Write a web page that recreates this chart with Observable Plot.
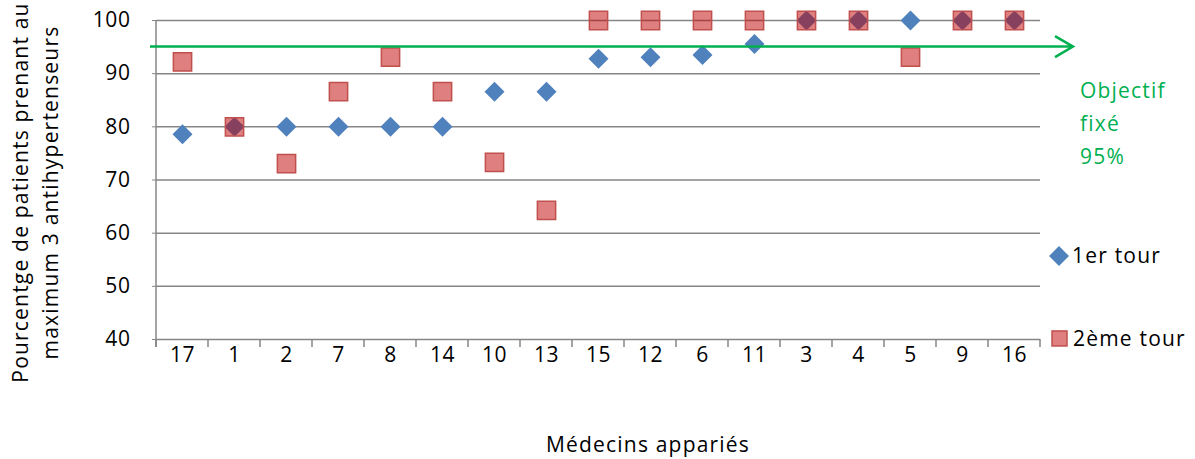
<!DOCTYPE html>
<html><head><meta charset="utf-8">
<script src="https://cdn.jsdelivr.net/npm/d3@7"></script>
<script src="https://cdn.jsdelivr.net/npm/@observablehq/plot@0.6"></script>
<style>body{margin:0;background:#fff} #chart svg{font-family:"Open Sans",sans-serif}</style>
</head><body><div id="chart"></div>
<script>
const medecins = ["17","1","2","7","8","14","10","13","15","12","6","11","3","4","5","9","16"];
const tour1 = [78.6,80,80,80,80,80,86.6,86.6,92.8,93.1,93.5,95.6,100,100,100,100,100];
const tour2 = [92.2,80,73.1,86.6,93.1,86.6,73.3,64.3,100,100,100,100,100,100,93.1,100,100];
const yTicks = [40,50,60,70,80,90,100];
const objectif = 95;
const seriesNames = ["1er tour","2ème tour"];
const objectifLabel = ["Objectif","fixé","95%"];
const yTitle = ["Pourcentge de patients prenant au","maximum 3 antihypertenseurs"];
const xTitle = "Médecins appariés";

const blue = "#4f81bd", redFill = "#c00000", redStroke = "#c0504d", green = "#00b050", grid = "#868686";

const d1 = medecins.map((m,i)=>({m, v: tour1[i]}));
const d2 = medecins.map((m,i)=>({m, v: tour2[i]}));

const W = 1195, H = 459, ML = 156, MR = 155, MT = 20, MB = 120;
const FS = 21, LS = "1.2px";

const chart = Plot.plot({
  width: W, height: H, marginLeft: ML, marginRight: MR, marginTop: MT, marginBottom: MB,
  style: {fontFamily: "Open Sans", fontSize: FS + "px", color: "#000", background: "#fff", overflow: "visible", letterSpacing: "0.6px"},
  x: {type: "band", domain: medecins, padding: 0, label: null},
  y: {domain: [40, 100], label: null},
  marks: [
    Plot.gridY(yTicks, {stroke: grid, strokeOpacity: 1, strokeWidth: 1.5}),
    Plot.axisY(yTicks, {tickSize: 4, tickPadding: 22, stroke: grid, fill: "#000", label: null}),
    Plot.axisX({tickSize: 0, tickPadding: 8, fill: "#000", label: null}),
    Plot.dot(d1, {x: "m", y: "v", symbol: "diamond2", r: 9, fill: blue, stroke: "none"}),
    Plot.dot(d2, {x: "m", y: "v", symbol: "square", r: 10.3, fill: redFill, fillOpacity: 0.5, stroke: redStroke, strokeWidth: 1.5})
  ]
});
document.getElementById("chart").appendChild(chart);

const svg = d3.select(chart);
const xs = chart.scale("x"), ys = chart.scale("y");
const yTop = ys.apply(100), yBot = ys.apply(40);
const xLeft = xs.apply(medecins[0]);
const xRight = xs.apply(medecins[medecins.length-1]) + xs.bandwidth;

const g = svg.append("g").attr("text-anchor", "start");
// y axis line
g.append("line").attr("x1", xLeft).attr("x2", xLeft).attr("y1", yTop).attr("y2", yBot + 8)
  .attr("stroke", grid).attr("stroke-width", 1.5);
// x ticks at band boundaries
const bounds = medecins.map(m => xs.apply(m)).concat([xRight]);
bounds.forEach(bx => g.append("line").attr("x1", bx).attr("x2", bx).attr("y1", yBot).attr("y2", yBot + 8)
  .attr("stroke", grid).attr("stroke-width", 1.5));

// objective line with arrow
const yo = ys.apply(objectif);
const xArrow = xRight + 33;
g.append("line").attr("x1", xLeft - 6).attr("x2", xArrow).attr("y1", yo).attr("y2", yo)
  .attr("stroke", green).attr("stroke-width", 2.5);
g.append("polyline").attr("points", `${xArrow-18},${yo-10.5} ${xArrow},${yo} ${xArrow-18},${yo+10.5}`)
  .attr("fill", "none").attr("stroke", green).attr("stroke-width", 2.5);

// objective label
objectifLabel.forEach((t, i) => g.append("text").attr("x", xRight + 40).attr("y", ys.apply(86.8) + i * 33)
  .attr("dy", "0.35em").attr("fill", green).attr("font-size", FS).attr("letter-spacing", LS).text(t));

// legend
const leg1y = ys.apply(55.6), leg2y = ys.apply(40.1);
g.append("path").attr("d", d3.symbol(d3.symbolDiamond2, 9*9*Math.PI)()).attr("transform", `translate(${xRight+19},${leg1y})`)
  .attr("fill", blue);
g.append("text").attr("x", xRight + 32).attr("y", leg1y).attr("dy", "0.35em").attr("font-size", FS).attr("letter-spacing", LS).text(seriesNames[0]);
g.append("rect").attr("x", xRight + 12).attr("y", leg2y - 7.5).attr("width", 15).attr("height", 15)
  .attr("fill", redFill).attr("fill-opacity", 0.5).attr("stroke", redStroke).attr("stroke-width", 1.5);
g.append("text").attr("x", xRight + 33).attr("y", leg2y).attr("dy", "0.35em").attr("font-size", FS).attr("letter-spacing", LS).text(seriesNames[1]);

// axis titles
const yc = (yTop + yBot) / 2 + 13;
yTitle.forEach((t, i) => g.append("text").attr("transform", `translate(${28 + i*30},${yc}) rotate(-90)`)
  .attr("text-anchor", "middle").attr("font-size", FS).attr("letter-spacing", LS).text(t));
g.append("text").attr("x", (xLeft + xRight) / 2 + 50).attr("y", 445).attr("dy", "0.35em")
  .attr("text-anchor", "middle").attr("font-size", FS).attr("letter-spacing", LS).text(xTitle);
</script></body></html>
